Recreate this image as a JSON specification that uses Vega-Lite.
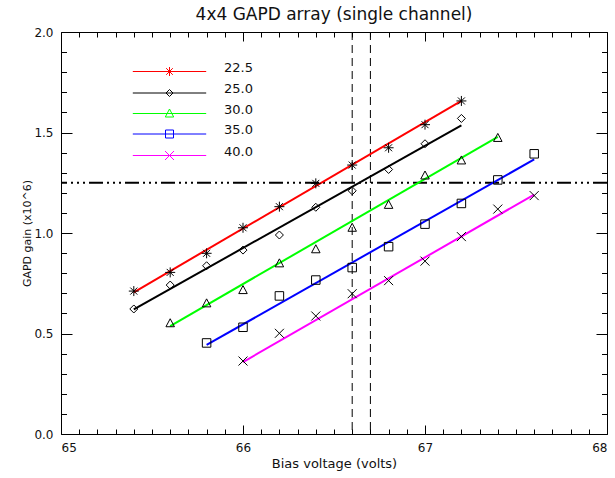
{
  "$schema": "https://vega.github.io/schema/vega-lite/v6.json",
  "width": 546,
  "height": 402,
  "autosize": {"type": "none"},
  "padding": {"left": 61, "top": 32, "right": 8, "bottom": 44},
  "background": "white",
  "title": {"text": "4x4 GAPD array (single channel)", "fontSize": 17, "font": "DejaVu Sans", "fontWeight": "normal", "color": "#111", "offset": 2},
  "datasets": {
    "pts": [
      {"series": "22.5", "v": 65.4, "gain": 0.711}, {"series": "22.5", "v": 65.6, "gain": 0.804}, {"series": "22.5", "v": 65.8, "gain": 0.899}, {"series": "22.5", "v": 66.0, "gain": 1.026}, {"series": "22.5", "v": 66.2, "gain": 1.131}, {"series": "22.5", "v": 66.4, "gain": 1.247}, {"series": "22.5", "v": 66.6, "gain": 1.338}, {"series": "22.5", "v": 66.8, "gain": 1.424}, {"series": "22.5", "v": 67.0, "gain": 1.539}, {"series": "22.5", "v": 67.2, "gain": 1.657},
      {"series": "25.0", "v": 65.4, "gain": 0.622}, {"series": "25.0", "v": 65.6, "gain": 0.741}, {"series": "25.0", "v": 65.8, "gain": 0.837}, {"series": "25.0", "v": 66.0, "gain": 0.915}, {"series": "25.0", "v": 66.2, "gain": 0.990}, {"series": "25.0", "v": 66.4, "gain": 1.128}, {"series": "25.0", "v": 66.6, "gain": 1.210}, {"series": "25.0", "v": 66.8, "gain": 1.316}, {"series": "25.0", "v": 67.0, "gain": 1.444}, {"series": "25.0", "v": 67.2, "gain": 1.570},
      {"series": "30.0", "v": 65.6, "gain": 0.551}, {"series": "30.0", "v": 65.8, "gain": 0.650}, {"series": "30.0", "v": 66.0, "gain": 0.716}, {"series": "30.0", "v": 66.2, "gain": 0.849}, {"series": "30.0", "v": 66.4, "gain": 0.919}, {"series": "30.0", "v": 66.6, "gain": 1.026}, {"series": "30.0", "v": 66.8, "gain": 1.140}, {"series": "30.0", "v": 67.0, "gain": 1.286}, {"series": "30.0", "v": 67.2, "gain": 1.361}, {"series": "30.0", "v": 67.4, "gain": 1.473},
      {"series": "35.0", "v": 65.8, "gain": 0.453}, {"series": "35.0", "v": 66.0, "gain": 0.531}, {"series": "35.0", "v": 66.2, "gain": 0.687}, {"series": "35.0", "v": 66.4, "gain": 0.766}, {"series": "35.0", "v": 66.6, "gain": 0.828}, {"series": "35.0", "v": 66.8, "gain": 0.932}, {"series": "35.0", "v": 67.0, "gain": 1.044}, {"series": "35.0", "v": 67.2, "gain": 1.147}, {"series": "35.0", "v": 67.4, "gain": 1.264}, {"series": "35.0", "v": 67.6, "gain": 1.394},
      {"series": "40.0", "v": 66.0, "gain": 0.363}, {"series": "40.0", "v": 66.2, "gain": 0.501}, {"series": "40.0", "v": 66.4, "gain": 0.587}, {"series": "40.0", "v": 66.6, "gain": 0.698}, {"series": "40.0", "v": 66.8, "gain": 0.763}, {"series": "40.0", "v": 67.0, "gain": 0.860}, {"series": "40.0", "v": 67.2, "gain": 0.982}, {"series": "40.0", "v": 67.4, "gain": 1.119}, {"series": "40.0", "v": 67.6, "gain": 1.186}
    ],
    "fit": [
      {"series": "22.5", "v": 65.4, "gain": 0.705}, {"series": "22.5", "v": 67.2, "gain": 1.657},
      {"series": "25.0", "v": 65.4, "gain": 0.620}, {"series": "25.0", "v": 67.2, "gain": 1.536},
      {"series": "30.0", "v": 65.6, "gain": 0.537}, {"series": "30.0", "v": 67.4, "gain": 1.478},
      {"series": "35.0", "v": 65.8, "gain": 0.443}, {"series": "35.0", "v": 67.6, "gain": 1.366},
      {"series": "40.0", "v": 66.0, "gain": 0.358}, {"series": "40.0", "v": 67.6, "gain": 1.191}
    ],
    "vlines": [{"v": 66.6}, {"v": 66.7}],
    "hline": [{"g": 1.25}]
  },
  "config": {
    "view": {"stroke": "black", "strokeWidth": 1},
    "axis": {"domain": false, "grid": false, "tickColor": "black", "tickWidth": 1, "labelFont": "DejaVu Sans", "labelFontSize": 12, "labelColor": "#111", "titleFont": "DejaVu Sans", "titleFontSize": 13, "titleFontWeight": "normal", "titleColor": "#111"},
    "legend": {"labelFont": "DejaVu Sans", "labelFontSize": 13, "labelColor": "#111"}
  },
  "resolve": {"axis": {"x": "independent", "y": "independent"}},
  "layer": [
    {
      "data": {"name": "vlines"},
      "mark": {"type": "rule", "color": "black", "strokeWidth": 1, "strokeDash": [8, 5]},
      "encoding": {"x": {"field": "v", "type": "quantitative", "scale": {"domain": [65, 68], "nice": false, "zero": false}, "axis": null}}
    },
    {
      "data": {"name": "hline"},
      "mark": {"type": "rule", "color": "black", "strokeWidth": 2, "strokeDash": [14, 4, 2, 4, 2, 4, 2, 4]},
      "encoding": {"y": {"field": "g", "type": "quantitative", "scale": {"domain": [0, 2], "nice": false}, "axis": null}}
    },
    {
      "data": {"name": "fit"},
      "mark": {"type": "line", "strokeWidth": 2},
      "encoding": {
        "x": {"field": "v", "type": "quantitative", "axis": null},
        "y": {"field": "gain", "type": "quantitative", "axis": null},
        "color": {"field": "series", "type": "nominal", "scale": {"domain": ["22.5", "25.0", "30.0", "35.0", "40.0"], "range": ["#ff0000", "#000000", "#00ff00", "#0000ff", "#ff00ff"]}},
        "detail": {"field": "series"}
      }
    },
    {
      "data": {"name": "pts"},
      "transform": [{"filter": "datum.series == '22.5'"}],
      "mark": {"type": "point", "filled": false, "color": "black", "strokeWidth": 1, "size": 100, "opacity": 1, "shape": "M0,-1V1M-1,0H1M-0.7,-0.7L0.7,0.7M-0.7,0.7L0.7,-0.7"},
      "encoding": {
        "x": {"field": "v", "type": "quantitative", "axis": {"orient": "bottom", "values": [65, 66, 67, 68], "tickSize": -9, "labelPadding": 17, "title": "Bias voltage (volts)", "titlePadding": 4}},
        "y": {"field": "gain", "type": "quantitative", "axis": {"orient": "left", "values": [0, 0.5, 1, 1.5, 2], "format": ".1f", "tickSize": -11, "labelPadding": 19, "title": "GAPD gain (x10^6)", "titlePadding": 1, "titleFontSize": 11}}
      }
    },
    {
      "data": {"name": "pts"},
      "transform": [{"filter": "datum.series == '25.0'"}],
      "mark": {"type": "point", "filled": false, "color": "black", "strokeWidth": 1, "size": 100, "opacity": 1, "shape": "M0,-0.8L0.8,0L0,0.8L-0.8,0Z"},
      "encoding": {
        "x": {"field": "v", "type": "quantitative", "axis": {"orient": "bottom", "values": [65.1, 65.2, 65.3, 65.4, 65.5, 65.6, 65.7, 65.8, 65.9, 66.1, 66.2, 66.3, 66.4, 66.5, 66.6, 66.7, 66.8, 66.9, 67.1, 67.2, 67.3, 67.4, 67.5, 67.6, 67.7, 67.8, 67.9], "tickSize": -5, "labels": false, "title": null}},
        "y": {"field": "gain", "type": "quantitative", "axis": {"orient": "left", "values": [0.1, 0.2, 0.3, 0.4, 0.6, 0.7, 0.8, 0.9, 1.1, 1.2, 1.3, 1.4, 1.6, 1.7, 1.8, 1.9], "tickSize": -5.5, "labels": false, "title": null}}
      }
    },
    {
      "data": {"name": "pts"},
      "transform": [{"filter": "datum.series == '30.0'"}],
      "mark": {"type": "point", "filled": false, "color": "black", "strokeWidth": 1, "size": 100, "opacity": 1, "shape": "M0,-0.9L0.85,0.7L-0.85,0.7Z"},
      "encoding": {
        "x": {"field": "v", "type": "quantitative", "axis": {"orient": "top", "values": [65, 66, 67, 68], "tickSize": -9, "labels": false, "title": null}},
        "y": {"field": "gain", "type": "quantitative", "axis": {"orient": "right", "values": [0, 0.5, 1, 1.5, 2], "tickSize": -11, "labels": false, "title": null}}
      }
    },
    {
      "data": {"name": "pts"},
      "transform": [{"filter": "datum.series == '35.0'"}],
      "mark": {"type": "point", "filled": false, "color": "black", "strokeWidth": 1, "size": 100, "opacity": 1, "shape": "M-0.85,-0.85H0.85V0.85H-0.85Z"},
      "encoding": {
        "x": {"field": "v", "type": "quantitative", "axis": {"orient": "top", "values": [65.1, 65.2, 65.3, 65.4, 65.5, 65.6, 65.7, 65.8, 65.9, 66.1, 66.2, 66.3, 66.4, 66.5, 66.6, 66.7, 66.8, 66.9, 67.1, 67.2, 67.3, 67.4, 67.5, 67.6, 67.7, 67.8, 67.9], "tickSize": -5, "labels": false, "title": null}},
        "y": {"field": "gain", "type": "quantitative", "axis": {"orient": "right", "values": [0.1, 0.2, 0.3, 0.4, 0.6, 0.7, 0.8, 0.9, 1.1, 1.2, 1.3, 1.4, 1.6, 1.7, 1.8, 1.9], "tickSize": -5.5, "labels": false, "title": null}}
      }
    },
    {
      "data": {"name": "pts"},
      "transform": [{"filter": "datum.series == '40.0'"}],
      "mark": {"type": "point", "filled": false, "color": "black", "strokeWidth": 1, "size": 100, "opacity": 1, "shape": "M-0.9,-0.9L0.9,0.9M-0.9,0.9L0.9,-0.9"},
      "encoding": {
        "x": {"field": "v", "type": "quantitative", "axis": null},
        "y": {"field": "gain", "type": "quantitative", "axis": null}
      }
    },
    {
      "data": {"name": "pts"},
      "transform": [{"filter": "false"}],
      "mark": {"type": "point", "filled": false, "strokeWidth": 1, "size": 400, "opacity": 1},
      "encoding": {
        "x": {"field": "v", "type": "quantitative", "axis": null},
        "y": {"field": "gain", "type": "quantitative", "axis": null},
        "color": {"field": "series", "type": "nominal", "legend": {"title": null, "orient": "none", "legendX": 98, "legendY": 29, "padding": 0, "rowPadding": 4.5, "labelOffset": 44, "labelBaseline": "alphabetic", "symbolStrokeWidth": 1, "symbolSize": 400}},
        "shape": {"field": "series", "type": "nominal", "scale": {"domain": ["22.5", "25.0", "30.0", "35.0", "40.0"], "range": [
          "M-3.67,0H3.67M0,-0.45V0.45M-0.33,-0.33L0.33,0.33M-0.33,0.33L0.33,-0.33",
          "M-3.67,0H3.67M0,-0.35L0.35,0L0,0.35L-0.35,0Z",
          "M-3.67,0H3.67M0,-0.45L0.42,0.35L-0.42,0.35L0,-0.45",
          "M-3.67,0H3.67M-0.4,-0.4H0.4V0.4H-0.4Z",
          "M-3.67,0H3.67M-0.45,-0.45L0.45,0.45M-0.45,0.45L0.45,-0.45"
        ]}, "legend": {"title": null, "orient": "none", "legendX": 98, "legendY": 29, "padding": 0, "rowPadding": 4.5, "labelOffset": 44, "labelBaseline": "alphabetic", "symbolStrokeWidth": 1, "symbolSize": 400}}
      }
    }
  ]
}
